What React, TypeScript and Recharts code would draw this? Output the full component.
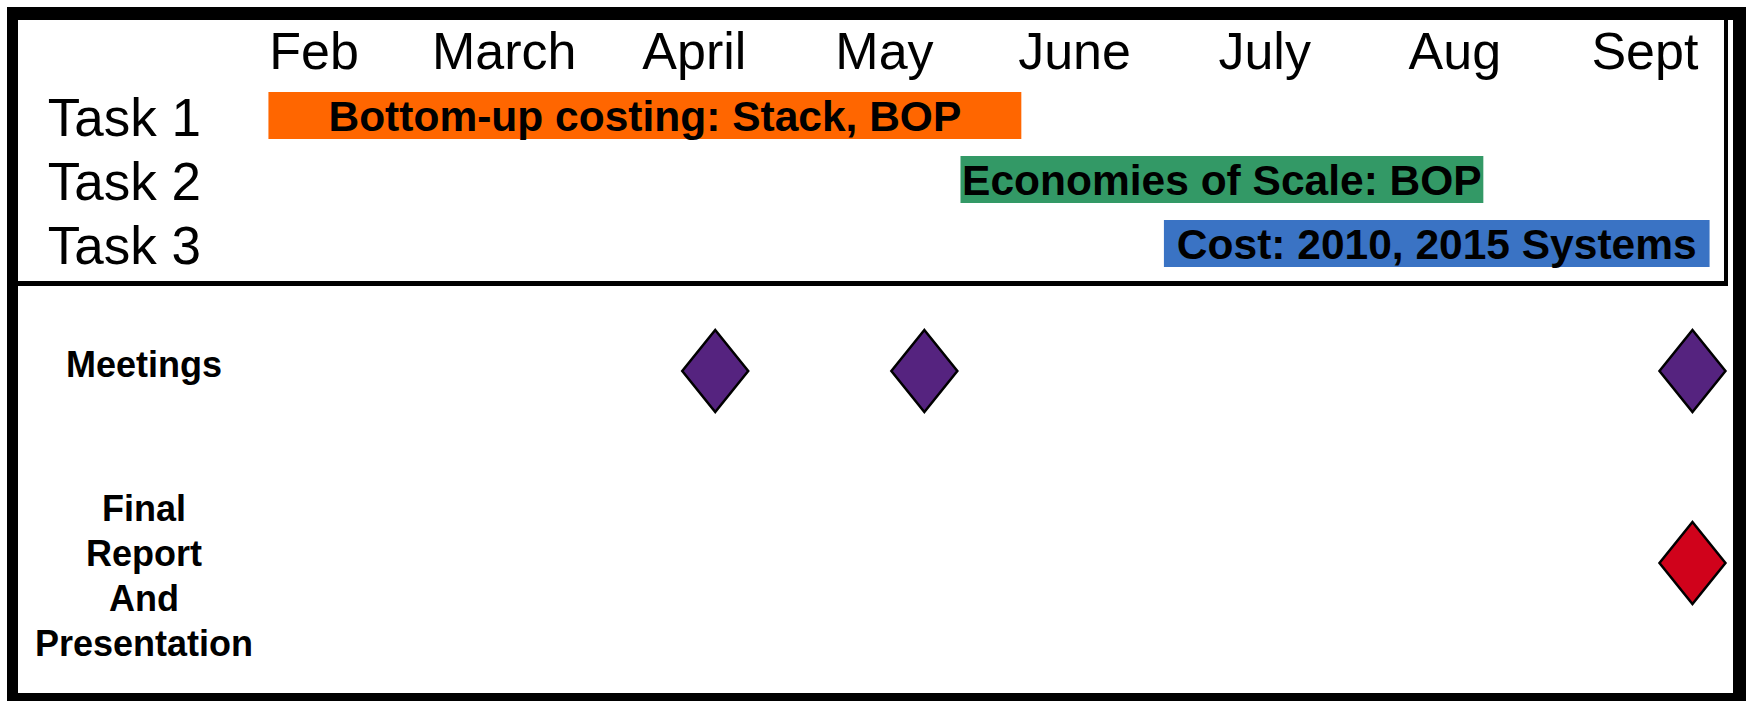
import React from "react";
import {
  BarChart,
  Bar,
  XAxis,
  YAxis,
  Cell,
  LabelList,
  ScatterChart,
  Scatter,
} from "recharts";

// ---- data ----
const months = ["Feb", "March", "April", "May", "June", "July", "Aug", "Sept"];
const monthTicks = [0, 1, 2, 3, 4, 5, 6, 7];

const taskNames = ["Task 1", "Task 2", "Task 3"];
const taskLabels = [
  "Bottom-up costing: Stack, BOP",
  "Economies of Scale: BOP",
  "Cost: 2010, 2015 Systems",
];
const taskStarts = [-0.24, 3.4, 4.47];
const taskEnds = [3.72, 6.15, 7.34];

const meetingDates = [2.11, 3.21, 7.25];
const finalDates = [7.25];

const rowNames = ["Final Report And Presentation", "Meetings"];

// ---- styles ----
const FONT = "'Liberation Sans', Arial, Helvetica, sans-serif";
const taskColors = ["#FF6600", "#339966", "#3A73C4"];
const MEETING_COLOR = "#55237F";
const FINAL_COLOR = "#D0021B";
const W = 1752;
const H = 701;

const taskData = taskNames.map((t, i) => ({
  task: t,
  range: [taskStarts[i], taskEnds[i]],
  label: taskLabels[i],
}));
const meetingData = meetingDates.map((x) => ({ x, y: 1 }));
const finalData = finalDates.map((x) => ({ x, y: 0 }));

const MonthTick = (props: any) => {
  const { x, y, payload } = props;
  return (
    <text x={x} y={y} textAnchor="middle" fontSize={52} fontFamily={FONT} fill="#000">
      {months[payload.value]}
    </text>
  );
};

const TaskTick = (props: any) => {
  const { x, y, payload } = props;
  return (
    <text x={x} y={y} dy={21} textAnchor="end" fontSize={53} fontFamily={FONT} fill="#000">
      {payload.value}
    </text>
  );
};

const RowTick = (props: any) => {
  const { x, y, payload } = props;
  const name = rowNames[payload.value];
  if (name === "Meetings") {
    return (
      <text x={x} y={y} dy={6} textAnchor="middle" fontSize={36} fontWeight="bold" fontFamily={FONT} fill="#000">
        {name}
      </text>
    );
  }
  const lines = ["Final", "Report", "And", "Presentation"];
  return (
    <text x={x} y={y} textAnchor="middle" fontSize={36} fontWeight="bold" fontFamily={FONT} fill="#000">
      {lines.map((l, i) => (
        <tspan key={i} x={x} dy={i === 0 ? -42 : 45}>
          {l}
        </tspan>
      ))}
    </text>
  );
};

const makeDiamond = (color: string) => (props: any) => {
  const { cx, cy } = props;
  if (cx == null || cy == null) return null;
  const hw = 33;
  const hh = 41;
  const pts = `${cx},${cy - hh} ${cx + hw},${cy} ${cx},${cy + hh} ${cx - hw},${cy}`;
  return <polygon points={pts} fill={color} stroke="#000" strokeWidth={2.5} strokeLinejoin="miter" />;
};

export default function App() {
  return (
    <div
      style={{
        position: "absolute",
        left: 0,
        top: 0,
        width: W,
        height: H,
        background: "#fff",
        overflow: "hidden",
        fontFamily: FONT,
      }}
    >
      {/* outer frame */}
      <div
        style={{
          position: "absolute",
          left: 7,
          top: 7,
          width: 1746 - 7,
          height: 705 - 7,
          boxSizing: "border-box",
          borderStyle: "solid",
          borderColor: "#000",
          borderTopWidth: 13,
          borderLeftWidth: 11,
          borderRightWidth: 13,
          borderBottomWidth: 12,
        }}
      />
      {/* separator between sections */}
      <div style={{ position: "absolute", left: 7, top: 281, width: 1728 - 7, height: 5, background: "#000" }} />
      {/* inner box right edge */}
      <div style={{ position: "absolute", left: 1724, top: 7, width: 4, height: 279, background: "#000" }} />

      {/* tasks chart */}
      <div style={{ position: "absolute", left: 0, top: 0 }}>
        <BarChart
          width={W}
          height={290}
          data={taskData}
          layout="vertical"
          margin={{ top: 0, right: 12, bottom: 15, left: 0 }}
        >
          <XAxis
            type="number"
            orientation="top"
            domain={[-0.5, 7.5]}
            ticks={monthTicks}
            interval={0}
            height={83}
            tickSize={0}
            tickMargin={14}
            axisLine={false}
            tickLine={false}
            tick={<MonthTick />}
          />
          <YAxis
            type="category"
            dataKey="task"
            width={219}
            tickSize={0}
            tickMargin={18}
            axisLine={false}
            tickLine={false}
            interval={0}
            tick={<TaskTick />}
          />
          <Bar dataKey="range" barSize={47} isAnimationActive={false}>
            {taskData.map((d, i) => (
              <Cell key={d.task} fill={taskColors[i]} />
            ))}
            <LabelList
              dataKey="label"
              position="center"
              fill="#000"
              fontSize={42.5}
              fontWeight="bold"
              fontFamily={FONT}
            />
          </Bar>
        </BarChart>
      </div>

      {/* milestones chart */}
      <div style={{ position: "absolute", left: 0, top: 0 }}>
        <ScatterChart width={W} height={H} margin={{ top: 275, right: 12, bottom: 42, left: 0 }}>
          <XAxis type="number" dataKey="x" domain={[-0.5, 7.5]} hide height={0} />
          <YAxis
            type="number"
            dataKey="y"
            domain={[-0.5, 1.5]}
            ticks={[0, 1]}
            interval={0}
            width={219}
            tickSize={0}
            tickMargin={75}
            axisLine={false}
            tickLine={false}
            tick={<RowTick />}
          />
          <Scatter data={meetingData} shape={makeDiamond(MEETING_COLOR)} isAnimationActive={false} />
          <Scatter data={finalData} shape={makeDiamond(FINAL_COLOR)} isAnimationActive={false} />
        </ScatterChart>
      </div>
    </div>
  );
}
